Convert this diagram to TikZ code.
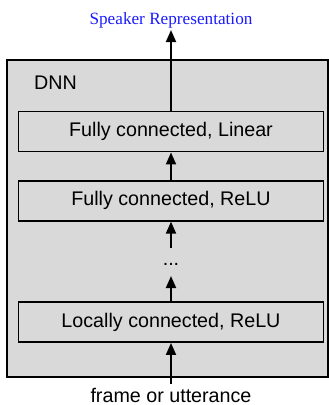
\documentclass[tikz,border=0pt]{standalone}
\usepackage{fontspec}
\setmainfont{Liberation Sans}
\newfontfamily\titlefont{Liberation Serif}
\usetikzlibrary{arrows.meta}
\definecolor{boxgray}{HTML}{D9D9D9}
\definecolor{titleblue}{HTML}{1A1AFF}
\begin{document}
\begin{tikzpicture}[x=1pt,y=-1pt,
  outerbox/.style={draw=black, fill=boxgray, line width=1.9pt, inner sep=0pt,
    minimum width=321pt, minimum height=317pt},
  layerbox/.style={draw=black, fill=boxgray, line width=1.9pt, inner sep=0pt,
    minimum width=305pt, minimum height=40pt, font=\fontsize{19.7}{22}\selectfont},
  lbl/.style={inner sep=0pt, font=\fontsize{19.7}{22}\selectfont},
  arr/.style={line width=1.9pt, -{Triangle[length=12pt,width=10pt]}}]
\useasboundingbox (0,0) rectangle (329,405);
\node[outerbox] (dnn) at (167.8,218.5) {};
\node[lbl, anchor=base west] (dnnlabel) at (34,89) {DNN};
\node[layerbox] (b1) at (171,131.5) {Fully connected, Linear};
\node[layerbox] (b2) at (171,200.7) {Fully connected, ReLU};
\node[layerbox] (b3) at (171,322) {Locally connected, ReLU};
\node[lbl] (dots) at (171,264) {...};
\node[inner sep=0pt, anchor=base, text=titleblue, font=\titlefont\fontsize{17.2}{20}\selectfont] (title) at (171,24) {Speaker Representation};
\node[lbl, anchor=base] (input) at (171,402) {frame or utterance};
\coordinate (top) at (171,30);
\coordinate (g1) at (171,248);
\coordinate (g2) at (171,276);
\coordinate (in) at (171,384);
\draw[arr] (b1.north) -- (top);
\draw[arr] (b2.north) -- (b1.south);
\draw[arr] (g1) -- (b2.south);
\draw[arr] (b3.north) -- (g2);
\draw[arr] (in) -- (b3.south);
\end{tikzpicture}
\end{document}
